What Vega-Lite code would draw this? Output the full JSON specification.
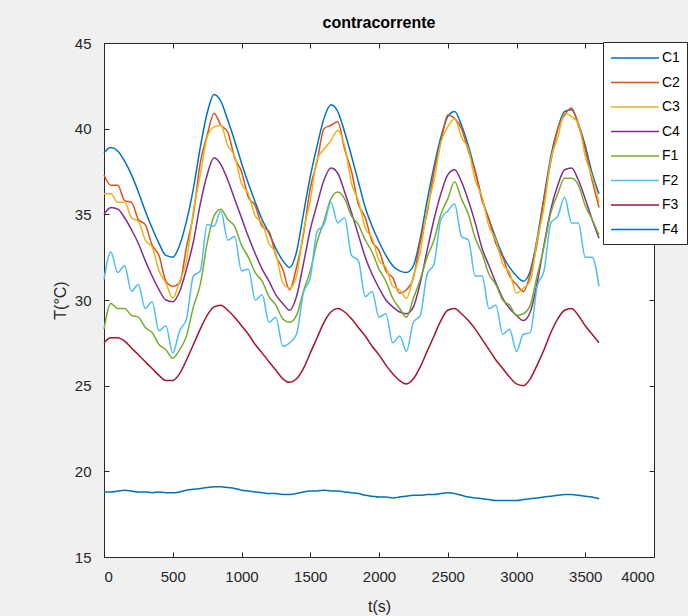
{
"$schema": "https://vega.github.io/schema/vega-lite/v6.json",
"width": 550, "height": 514,
"autosize": {"type": "none"},
"padding": {"left": 104, "top": 43, "right": 34, "bottom": 59},
"background": "#f0f0f0",
"title": {"text": "contracorrente", "font": "Liberation Sans", "fontSize": 16, "fontWeight": "bold", "color": "#000000", "offset": 5, "anchor": "middle"},
"config": {
  "view": {"fill": "white", "stroke": "#262626", "strokeWidth": 1},
  "axis": {"domain": false, "grid": false, "offset": -5, "tickColor": "#262626", "tickSize": 5, "tickWidth": 1, "labelColor": "#262626", "labelFont": "Liberation Sans", "labelFontSize": 15, "titleFont": "Liberation Sans", "titleFontSize": 16, "titleColor": "#262626", "titleFontWeight": "normal"},
  "legend": {"orient": "none", "legendX": 499, "legendY": -1, "symbolType": "M-1,0H5", "symbolSize": 256, "symbolStrokeWidth": 1.5, "labelFont": "Liberation Sans", "labelFontSize": 14, "labelColor": "#000000", "fillColor": "white", "strokeColor": "#262626", "padding": 7, "rowPadding": 8.5, "labelOffset": 34}
},
"data": {"values": [
{"t":0,"s":"C1","T":38.6},{"t":50,"s":"C1","T":38.9},{"t":100,"s":"C1","T":38.7},{"t":150,"s":"C1","T":38.1},{"t":200,"s":"C1","T":37.3},{"t":250,"s":"C1","T":36.3},{"t":300,"s":"C1","T":35.2},{"t":350,"s":"C1","T":34.2},{"t":400,"s":"C1","T":33.3},{"t":450,"s":"C1","T":32.6},
{"t":500,"s":"C1","T":32.5},{"t":550,"s":"C1","T":33.2},{"t":600,"s":"C1","T":34.6},{"t":650,"s":"C1","T":36.5},{"t":700,"s":"C1","T":38.9},{"t":750,"s":"C1","T":40.9},{"t":800,"s":"C1","T":42.0},{"t":850,"s":"C1","T":41.6},{"t":900,"s":"C1","T":40.5},{"t":950,"s":"C1","T":39.3},
{"t":1000,"s":"C1","T":38.0},{"t":1050,"s":"C1","T":36.8},{"t":1100,"s":"C1","T":35.7},{"t":1150,"s":"C1","T":34.7},{"t":1200,"s":"C1","T":33.9},{"t":1250,"s":"C1","T":33.0},{"t":1300,"s":"C1","T":32.3},{"t":1350,"s":"C1","T":31.9},{"t":1400,"s":"C1","T":32.8},{"t":1450,"s":"C1","T":35.0},
{"t":1500,"s":"C1","T":37.2},{"t":1550,"s":"C1","T":39.0},{"t":1600,"s":"C1","T":40.6},{"t":1650,"s":"C1","T":41.4},{"t":1700,"s":"C1","T":41.0},{"t":1750,"s":"C1","T":39.8},{"t":1800,"s":"C1","T":38.4},{"t":1850,"s":"C1","T":36.9},{"t":1900,"s":"C1","T":35.4},{"t":1950,"s":"C1","T":34.3},
{"t":2000,"s":"C1","T":33.4},{"t":2050,"s":"C1","T":32.6},{"t":2100,"s":"C1","T":32.0},{"t":2150,"s":"C1","T":31.7},{"t":2200,"s":"C1","T":31.6},{"t":2250,"s":"C1","T":32.0},{"t":2300,"s":"C1","T":33.6},{"t":2350,"s":"C1","T":35.8},{"t":2400,"s":"C1","T":37.8},{"t":2450,"s":"C1","T":39.5},
{"t":2500,"s":"C1","T":40.7},{"t":2550,"s":"C1","T":41.0},{"t":2600,"s":"C1","T":40.2},{"t":2650,"s":"C1","T":39.0},{"t":2700,"s":"C1","T":37.5},{"t":2750,"s":"C1","T":35.9},{"t":2800,"s":"C1","T":34.7},{"t":2850,"s":"C1","T":33.6},{"t":2900,"s":"C1","T":32.6},{"t":2950,"s":"C1","T":31.9},
{"t":3000,"s":"C1","T":31.4},{"t":3050,"s":"C1","T":31.1},{"t":3100,"s":"C1","T":31.7},{"t":3150,"s":"C1","T":33.6},{"t":3200,"s":"C1","T":36.0},{"t":3250,"s":"C1","T":38.4},{"t":3300,"s":"C1","T":40.0},{"t":3350,"s":"C1","T":41.0},{"t":3400,"s":"C1","T":41.1},{"t":3450,"s":"C1","T":40.3},
{"t":3500,"s":"C1","T":39.0},{"t":3550,"s":"C1","T":37.4},{"t":3600,"s":"C1","T":36.2},
{"t":0,"s":"C2","T":37.3},{"t":50,"s":"C2","T":36.7},{"t":100,"s":"C2","T":36.7},{"t":150,"s":"C2","T":35.8},{"t":200,"s":"C2","T":35.7},{"t":250,"s":"C2","T":34.7},{"t":300,"s":"C2","T":34.4},{"t":350,"s":"C2","T":33.2},{"t":400,"s":"C2","T":32.6},{"t":450,"s":"C2","T":31.1},
{"t":500,"s":"C2","T":30.8},{"t":550,"s":"C2","T":31.0},{"t":600,"s":"C2","T":33.1},{"t":650,"s":"C2","T":35.0},{"t":700,"s":"C2","T":38.0},{"t":750,"s":"C2","T":39.6},{"t":800,"s":"C2","T":40.9},{"t":850,"s":"C2","T":40.2},{"t":900,"s":"C2","T":39.8},{"t":950,"s":"C2","T":38.3},
{"t":1000,"s":"C2","T":37.5},{"t":1050,"s":"C2","T":36.0},{"t":1100,"s":"C2","T":35.5},{"t":1150,"s":"C2","T":34.3},{"t":1200,"s":"C2","T":34.0},{"t":1250,"s":"C2","T":32.6},{"t":1300,"s":"C2","T":31.8},{"t":1350,"s":"C2","T":30.6},{"t":1400,"s":"C2","T":31.9},{"t":1450,"s":"C2","T":33.8},
{"t":1500,"s":"C2","T":36.5},{"t":1550,"s":"C2","T":38.1},{"t":1600,"s":"C2","T":40.0},{"t":1650,"s":"C2","T":40.2},{"t":1700,"s":"C2","T":40.4},{"t":1750,"s":"C2","T":38.8},{"t":1800,"s":"C2","T":37.5},{"t":1850,"s":"C2","T":35.6},{"t":1900,"s":"C2","T":34.8},{"t":1950,"s":"C2","T":33.4},
{"t":2000,"s":"C2","T":32.9},{"t":2050,"s":"C2","T":31.7},{"t":2100,"s":"C2","T":31.3},{"t":2150,"s":"C2","T":30.4},{"t":2200,"s":"C2","T":30.6},{"t":2250,"s":"C2","T":31.3},{"t":2300,"s":"C2","T":33.4},{"t":2350,"s":"C2","T":35.1},{"t":2400,"s":"C2","T":37.5},{"t":2450,"s":"C2","T":39.2},
{"t":2500,"s":"C2","T":40.8},{"t":2550,"s":"C2","T":40.6},{"t":2600,"s":"C2","T":40.0},{"t":2650,"s":"C2","T":38.7},{"t":2700,"s":"C2","T":37.5},{"t":2750,"s":"C2","T":35.8},{"t":2800,"s":"C2","T":34.7},{"t":2850,"s":"C2","T":33.3},{"t":2900,"s":"C2","T":32.5},{"t":2950,"s":"C2","T":31.4},
{"t":3000,"s":"C2","T":30.9},{"t":3050,"s":"C2","T":30.5},{"t":3100,"s":"C2","T":31.5},{"t":3150,"s":"C2","T":33.3},{"t":3200,"s":"C2","T":35.9},{"t":3250,"s":"C2","T":38.1},{"t":3300,"s":"C2","T":40.0},{"t":3350,"s":"C2","T":40.8},{"t":3400,"s":"C2","T":41.2},{"t":3450,"s":"C2","T":40.2},
{"t":3500,"s":"C2","T":38.8},{"t":3550,"s":"C2","T":37.0},{"t":3600,"s":"C2","T":35.4},
{"t":0,"s":"C3","T":36.2},{"t":50,"s":"C3","T":36.2},{"t":100,"s":"C3","T":35.7},{"t":150,"s":"C3","T":35.7},{"t":200,"s":"C3","T":34.8},{"t":250,"s":"C3","T":34.6},{"t":300,"s":"C3","T":33.5},{"t":350,"s":"C3","T":33.1},{"t":400,"s":"C3","T":31.7},{"t":450,"s":"C3","T":31.0},
{"t":500,"s":"C3","T":30.1},{"t":550,"s":"C3","T":31.1},{"t":600,"s":"C3","T":32.3},{"t":650,"s":"C3","T":35.2},{"t":700,"s":"C3","T":37.3},{"t":750,"s":"C3","T":39.5},{"t":800,"s":"C3","T":40.1},{"t":850,"s":"C3","T":40.2},{"t":900,"s":"C3","T":39.0},{"t":950,"s":"C3","T":38.4},
{"t":1000,"s":"C3","T":36.8},{"t":1050,"s":"C3","T":36.2},{"t":1100,"s":"C3","T":34.9},{"t":1150,"s":"C3","T":34.5},{"t":1200,"s":"C3","T":33.3},{"t":1250,"s":"C3","T":32.7},{"t":1300,"s":"C3","T":31.0},{"t":1350,"s":"C3","T":30.7},{"t":1400,"s":"C3","T":31.4},{"t":1450,"s":"C3","T":34.0},
{"t":1500,"s":"C3","T":35.8},{"t":1550,"s":"C3","T":38.2},{"t":1600,"s":"C3","T":38.8},{"t":1650,"s":"C3","T":39.3},{"t":1700,"s":"C3","T":39.9},{"t":1750,"s":"C3","T":39.0},{"t":1800,"s":"C3","T":36.8},{"t":1850,"s":"C3","T":35.8},{"t":1900,"s":"C3","T":34.2},{"t":1950,"s":"C3","T":33.6},
{"t":2000,"s":"C3","T":32.3},{"t":2050,"s":"C3","T":31.9},{"t":2100,"s":"C3","T":30.8},{"t":2150,"s":"C3","T":30.6},{"t":2200,"s":"C3","T":30.1},{"t":2250,"s":"C3","T":31.4},{"t":2300,"s":"C3","T":32.8},{"t":2350,"s":"C3","T":35.3},{"t":2400,"s":"C3","T":37.0},{"t":2450,"s":"C3","T":39.2},
{"t":2500,"s":"C3","T":40.1},{"t":2550,"s":"C3","T":40.6},{"t":2600,"s":"C3","T":39.5},{"t":2650,"s":"C3","T":38.8},{"t":2700,"s":"C3","T":37.0},{"t":2750,"s":"C3","T":36.0},{"t":2800,"s":"C3","T":34.3},{"t":2850,"s":"C3","T":33.5},{"t":2900,"s":"C3","T":32.1},{"t":2950,"s":"C3","T":31.6},
{"t":3000,"s":"C3","T":30.4},{"t":3050,"s":"C3","T":30.7},{"t":3100,"s":"C3","T":31.1},{"t":3150,"s":"C3","T":33.5},{"t":3200,"s":"C3","T":35.4},{"t":3250,"s":"C3","T":38.2},{"t":3300,"s":"C3","T":39.5},{"t":3350,"s":"C3","T":40.9},{"t":3400,"s":"C3","T":40.7},{"t":3450,"s":"C3","T":40.3},
{"t":3500,"s":"C3","T":38.4},{"t":3550,"s":"C3","T":37.2},{"t":3600,"s":"C3","T":35.7},
{"t":0,"s":"C4","T":35.0},{"t":50,"s":"C4","T":35.4},{"t":100,"s":"C4","T":35.3},{"t":150,"s":"C4","T":34.8},{"t":200,"s":"C4","T":34.1},{"t":250,"s":"C4","T":33.3},{"t":300,"s":"C4","T":32.3},{"t":350,"s":"C4","T":31.4},{"t":400,"s":"C4","T":30.6},{"t":450,"s":"C4","T":30.0},
{"t":500,"s":"C4","T":29.9},{"t":550,"s":"C4","T":30.5},{"t":600,"s":"C4","T":31.8},{"t":650,"s":"C4","T":33.4},{"t":700,"s":"C4","T":35.6},{"t":750,"s":"C4","T":37.3},{"t":800,"s":"C4","T":38.3},{"t":850,"s":"C4","T":37.9},{"t":900,"s":"C4","T":37.0},{"t":950,"s":"C4","T":35.9},
{"t":1000,"s":"C4","T":34.8},{"t":1050,"s":"C4","T":33.7},{"t":1100,"s":"C4","T":32.7},{"t":1150,"s":"C4","T":31.8},{"t":1200,"s":"C4","T":31.1},{"t":1250,"s":"C4","T":30.3},{"t":1300,"s":"C4","T":29.8},{"t":1350,"s":"C4","T":29.4},{"t":1400,"s":"C4","T":30.2},{"t":1450,"s":"C4","T":32.1},
{"t":1500,"s":"C4","T":34.1},{"t":1550,"s":"C4","T":35.6},{"t":1600,"s":"C4","T":37.0},{"t":1650,"s":"C4","T":37.7},{"t":1700,"s":"C4","T":37.4},{"t":1750,"s":"C4","T":36.3},{"t":1800,"s":"C4","T":35.1},{"t":1850,"s":"C4","T":33.8},{"t":1900,"s":"C4","T":32.5},{"t":1950,"s":"C4","T":31.5},
{"t":2000,"s":"C4","T":30.7},{"t":2050,"s":"C4","T":30.0},{"t":2100,"s":"C4","T":29.6},{"t":2150,"s":"C4","T":29.3},{"t":2200,"s":"C4","T":29.2},{"t":2250,"s":"C4","T":29.6},{"t":2300,"s":"C4","T":31.0},{"t":2350,"s":"C4","T":32.9},{"t":2400,"s":"C4","T":34.7},{"t":2450,"s":"C4","T":36.2},
{"t":2500,"s":"C4","T":37.3},{"t":2550,"s":"C4","T":37.6},{"t":2600,"s":"C4","T":36.9},{"t":2650,"s":"C4","T":35.8},{"t":2700,"s":"C4","T":34.5},{"t":2750,"s":"C4","T":33.0},{"t":2800,"s":"C4","T":32.0},{"t":2850,"s":"C4","T":31.0},{"t":2900,"s":"C4","T":30.1},{"t":2950,"s":"C4","T":29.5},
{"t":3000,"s":"C4","T":29.1},{"t":3050,"s":"C4","T":28.8},{"t":3100,"s":"C4","T":29.3},{"t":3150,"s":"C4","T":31.0},{"t":3200,"s":"C4","T":33.2},{"t":3250,"s":"C4","T":35.3},{"t":3300,"s":"C4","T":36.7},{"t":3350,"s":"C4","T":37.6},{"t":3400,"s":"C4","T":37.7},{"t":3450,"s":"C4","T":37.0},
{"t":3500,"s":"C4","T":35.9},{"t":3550,"s":"C4","T":34.7},{"t":3600,"s":"C4","T":33.6},
{"t":0,"s":"F1","T":28.3},{"t":50,"s":"F1","T":29.8},{"t":100,"s":"F1","T":29.5},{"t":150,"s":"F1","T":29.5},{"t":200,"s":"F1","T":29.1},{"t":250,"s":"F1","T":29.0},{"t":300,"s":"F1","T":28.4},{"t":350,"s":"F1","T":28.1},{"t":400,"s":"F1","T":27.4},{"t":450,"s":"F1","T":27.1},
{"t":500,"s":"F1","T":26.6},{"t":550,"s":"F1","T":27.1},{"t":600,"s":"F1","T":27.9},{"t":650,"s":"F1","T":29.6},{"t":700,"s":"F1","T":30.9},{"t":750,"s":"F1","T":33.3},{"t":800,"s":"F1","T":34.9},{"t":850,"s":"F1","T":35.3},{"t":900,"s":"F1","T":34.7},{"t":950,"s":"F1","T":34.3},
{"t":1000,"s":"F1","T":33.2},{"t":1050,"s":"F1","T":32.5},{"t":1100,"s":"F1","T":31.6},{"t":1150,"s":"F1","T":31.1},{"t":1200,"s":"F1","T":30.2},{"t":1250,"s":"F1","T":29.7},{"t":1300,"s":"F1","T":28.9},{"t":1350,"s":"F1","T":28.7},{"t":1400,"s":"F1","T":29.1},{"t":1450,"s":"F1","T":30.5},
{"t":1500,"s":"F1","T":31.7},{"t":1550,"s":"F1","T":33.4},{"t":1600,"s":"F1","T":34.6},{"t":1650,"s":"F1","T":35.9},{"t":1700,"s":"F1","T":36.3},{"t":1750,"s":"F1","T":35.9},{"t":1800,"s":"F1","T":34.9},{"t":1850,"s":"F1","T":34.4},{"t":1900,"s":"F1","T":33.5},{"t":1950,"s":"F1","T":32.8},
{"t":2000,"s":"F1","T":31.8},{"t":2050,"s":"F1","T":31.1},{"t":2100,"s":"F1","T":30.1},{"t":2150,"s":"F1","T":29.5},{"t":2200,"s":"F1","T":29.0},{"t":2250,"s":"F1","T":30.1},{"t":2300,"s":"F1","T":31.2},{"t":2350,"s":"F1","T":32.5},{"t":2400,"s":"F1","T":33.5},{"t":2450,"s":"F1","T":35.0},
{"t":2500,"s":"F1","T":35.9},{"t":2550,"s":"F1","T":36.9},{"t":2600,"s":"F1","T":35.9},{"t":2650,"s":"F1","T":35.0},{"t":2700,"s":"F1","T":33.6},{"t":2750,"s":"F1","T":32.7},{"t":2800,"s":"F1","T":31.5},{"t":2850,"s":"F1","T":30.9},{"t":2900,"s":"F1","T":30.0},{"t":2950,"s":"F1","T":29.7},
{"t":3000,"s":"F1","T":29.1},{"t":3050,"s":"F1","T":29.2},{"t":3100,"s":"F1","T":29.7},{"t":3150,"s":"F1","T":31.4},{"t":3200,"s":"F1","T":33.1},{"t":3250,"s":"F1","T":35.1},{"t":3300,"s":"F1","T":36.2},{"t":3350,"s":"F1","T":37.1},{"t":3400,"s":"F1","T":37.1},{"t":3450,"s":"F1","T":36.7},
{"t":3500,"s":"F1","T":35.5},{"t":3550,"s":"F1","T":34.7},{"t":3600,"s":"F1","T":33.8},
{"t":0,"s":"F2","T":31.2},{"t":50,"s":"F2","T":32.8},{"t":100,"s":"F2","T":31.6},{"t":150,"s":"F2","T":32.0},{"t":200,"s":"F2","T":30.5},{"t":250,"s":"F2","T":30.9},{"t":300,"s":"F2","T":29.5},{"t":350,"s":"F2","T":29.9},{"t":400,"s":"F2","T":28.2},{"t":450,"s":"F2","T":28.5},
{"t":500,"s":"F2","T":26.9},{"t":550,"s":"F2","T":28.2},{"t":600,"s":"F2","T":28.9},{"t":650,"s":"F2","T":31.4},{"t":700,"s":"F2","T":31.7},{"t":750,"s":"F2","T":34.4},{"t":800,"s":"F2","T":34.3},{"t":850,"s":"F2","T":35.2},{"t":900,"s":"F2","T":33.5},{"t":950,"s":"F2","T":33.7},
{"t":1000,"s":"F2","T":31.7},{"t":1050,"s":"F2","T":31.8},{"t":1100,"s":"F2","T":30.0},{"t":1150,"s":"F2","T":30.3},{"t":1200,"s":"F2","T":28.7},{"t":1250,"s":"F2","T":29.0},{"t":1300,"s":"F2","T":27.3},{"t":1350,"s":"F2","T":27.5},{"t":1400,"s":"F2","T":28.0},{"t":1450,"s":"F2","T":30.4},
{"t":1500,"s":"F2","T":31.3},{"t":1550,"s":"F2","T":34.0},{"t":1600,"s":"F2","T":34.4},{"t":1650,"s":"F2","T":35.7},{"t":1700,"s":"F2","T":34.5},{"t":1750,"s":"F2","T":34.8},{"t":1800,"s":"F2","T":32.6},{"t":1850,"s":"F2","T":32.3},{"t":1900,"s":"F2","T":30.2},{"t":1950,"s":"F2","T":30.5},
{"t":2000,"s":"F2","T":29.0},{"t":2050,"s":"F2","T":29.2},{"t":2100,"s":"F2","T":27.5},{"t":2150,"s":"F2","T":27.9},{"t":2200,"s":"F2","T":27.0},{"t":2250,"s":"F2","T":28.7},{"t":2300,"s":"F2","T":29.1},{"t":2350,"s":"F2","T":31.5},{"t":2400,"s":"F2","T":32.1},{"t":2450,"s":"F2","T":34.7},
{"t":2500,"s":"F2","T":35.2},{"t":2550,"s":"F2","T":35.6},{"t":2600,"s":"F2","T":33.7},{"t":2650,"s":"F2","T":33.5},{"t":2700,"s":"F2","T":31.4},{"t":2750,"s":"F2","T":31.4},{"t":2800,"s":"F2","T":29.5},{"t":2850,"s":"F2","T":29.7},{"t":2900,"s":"F2","T":28.0},{"t":2950,"s":"F2","T":28.3},
{"t":3000,"s":"F2","T":27.0},{"t":3050,"s":"F2","T":28.0},{"t":3100,"s":"F2","T":28.1},{"t":3150,"s":"F2","T":30.8},{"t":3200,"s":"F2","T":31.7},{"t":3250,"s":"F2","T":34.5},{"t":3300,"s":"F2","T":34.9},{"t":3350,"s":"F2","T":36.0},{"t":3400,"s":"F2","T":34.5},{"t":3450,"s":"F2","T":34.5},
{"t":3500,"s":"F2","T":32.5},{"t":3550,"s":"F2","T":32.5},{"t":3600,"s":"F2","T":30.8},
{"t":0,"s":"F3","T":27.5},{"t":50,"s":"F3","T":27.8},{"t":100,"s":"F3","T":27.8},{"t":150,"s":"F3","T":27.6},{"t":200,"s":"F3","T":27.2},{"t":250,"s":"F3","T":26.8},{"t":300,"s":"F3","T":26.4},{"t":350,"s":"F3","T":26.0},{"t":400,"s":"F3","T":25.6},{"t":450,"s":"F3","T":25.3},
{"t":500,"s":"F3","T":25.3},{"t":550,"s":"F3","T":25.7},{"t":600,"s":"F3","T":26.5},{"t":650,"s":"F3","T":27.4},{"t":700,"s":"F3","T":28.3},{"t":750,"s":"F3","T":29.1},{"t":800,"s":"F3","T":29.6},{"t":850,"s":"F3","T":29.7},{"t":900,"s":"F3","T":29.4},{"t":950,"s":"F3","T":29.0},
{"t":1000,"s":"F3","T":28.5},{"t":1050,"s":"F3","T":28.0},{"t":1100,"s":"F3","T":27.4},{"t":1150,"s":"F3","T":26.9},{"t":1200,"s":"F3","T":26.4},{"t":1250,"s":"F3","T":25.9},{"t":1300,"s":"F3","T":25.4},{"t":1350,"s":"F3","T":25.2},{"t":1400,"s":"F3","T":25.4},{"t":1450,"s":"F3","T":26.0},
{"t":1500,"s":"F3","T":26.9},{"t":1550,"s":"F3","T":27.8},{"t":1600,"s":"F3","T":28.7},{"t":1650,"s":"F3","T":29.3},{"t":1700,"s":"F3","T":29.5},{"t":1750,"s":"F3","T":29.3},{"t":1800,"s":"F3","T":28.9},{"t":1850,"s":"F3","T":28.4},{"t":1900,"s":"F3","T":27.9},{"t":1950,"s":"F3","T":27.3},
{"t":2000,"s":"F3","T":26.8},{"t":2050,"s":"F3","T":26.2},{"t":2100,"s":"F3","T":25.7},{"t":2150,"s":"F3","T":25.3},{"t":2200,"s":"F3","T":25.1},{"t":2250,"s":"F3","T":25.4},{"t":2300,"s":"F3","T":26.1},{"t":2350,"s":"F3","T":27.0},{"t":2400,"s":"F3","T":27.9},{"t":2450,"s":"F3","T":28.8},
{"t":2500,"s":"F3","T":29.4},{"t":2550,"s":"F3","T":29.5},{"t":2600,"s":"F3","T":29.2},{"t":2650,"s":"F3","T":28.8},{"t":2700,"s":"F3","T":28.3},{"t":2750,"s":"F3","T":27.7},{"t":2800,"s":"F3","T":27.1},{"t":2850,"s":"F3","T":26.5},{"t":2900,"s":"F3","T":26.0},{"t":2950,"s":"F3","T":25.5},
{"t":3000,"s":"F3","T":25.1},{"t":3050,"s":"F3","T":25.0},{"t":3100,"s":"F3","T":25.4},{"t":3150,"s":"F3","T":26.2},{"t":3200,"s":"F3","T":27.1},{"t":3250,"s":"F3","T":28.1},{"t":3300,"s":"F3","T":28.9},{"t":3350,"s":"F3","T":29.4},{"t":3400,"s":"F3","T":29.5},{"t":3450,"s":"F3","T":29.1},
{"t":3500,"s":"F3","T":28.5},{"t":3550,"s":"F3","T":28.0},{"t":3600,"s":"F3","T":27.5},
{"t":0,"s":"F4","T":18.8},{"t":50,"s":"F4","T":18.8},{"t":100,"s":"F4","T":18.85},{"t":150,"s":"F4","T":18.9},{"t":200,"s":"F4","T":18.85},{"t":250,"s":"F4","T":18.8},{"t":300,"s":"F4","T":18.8},{"t":350,"s":"F4","T":18.75},{"t":400,"s":"F4","T":18.8},{"t":450,"s":"F4","T":18.75},
{"t":500,"s":"F4","T":18.75},{"t":550,"s":"F4","T":18.8},{"t":600,"s":"F4","T":18.9},{"t":650,"s":"F4","T":18.95},{"t":700,"s":"F4","T":19.0},{"t":750,"s":"F4","T":19.05},{"t":800,"s":"F4","T":19.1},{"t":850,"s":"F4","T":19.1},{"t":900,"s":"F4","T":19.05},{"t":950,"s":"F4","T":19.0},
{"t":1000,"s":"F4","T":18.9},{"t":1050,"s":"F4","T":18.85},{"t":1100,"s":"F4","T":18.8},{"t":1150,"s":"F4","T":18.75},{"t":1200,"s":"F4","T":18.7},{"t":1250,"s":"F4","T":18.7},{"t":1300,"s":"F4","T":18.65},{"t":1350,"s":"F4","T":18.65},{"t":1400,"s":"F4","T":18.7},{"t":1450,"s":"F4","T":18.8},
{"t":1500,"s":"F4","T":18.85},{"t":1550,"s":"F4","T":18.85},{"t":1600,"s":"F4","T":18.9},{"t":1650,"s":"F4","T":18.85},{"t":1700,"s":"F4","T":18.85},{"t":1750,"s":"F4","T":18.8},{"t":1800,"s":"F4","T":18.75},{"t":1850,"s":"F4","T":18.7},{"t":1900,"s":"F4","T":18.6},{"t":1950,"s":"F4","T":18.55},
{"t":2000,"s":"F4","T":18.5},{"t":2050,"s":"F4","T":18.5},{"t":2100,"s":"F4","T":18.45},{"t":2150,"s":"F4","T":18.5},{"t":2200,"s":"F4","T":18.55},{"t":2250,"s":"F4","T":18.6},{"t":2300,"s":"F4","T":18.6},{"t":2350,"s":"F4","T":18.65},{"t":2400,"s":"F4","T":18.65},{"t":2450,"s":"F4","T":18.7},
{"t":2500,"s":"F4","T":18.75},{"t":2550,"s":"F4","T":18.7},{"t":2600,"s":"F4","T":18.6},{"t":2650,"s":"F4","T":18.5},{"t":2700,"s":"F4","T":18.45},{"t":2750,"s":"F4","T":18.4},{"t":2800,"s":"F4","T":18.35},{"t":2850,"s":"F4","T":18.3},{"t":2900,"s":"F4","T":18.3},{"t":2950,"s":"F4","T":18.3},
{"t":3000,"s":"F4","T":18.3},{"t":3050,"s":"F4","T":18.35},{"t":3100,"s":"F4","T":18.4},{"t":3150,"s":"F4","T":18.45},{"t":3200,"s":"F4","T":18.5},{"t":3250,"s":"F4","T":18.55},{"t":3300,"s":"F4","T":18.6},{"t":3350,"s":"F4","T":18.65},{"t":3400,"s":"F4","T":18.65},{"t":3450,"s":"F4","T":18.6},
{"t":3500,"s":"F4","T":18.55},{"t":3550,"s":"F4","T":18.5},{"t":3600,"s":"F4","T":18.4}
]},
"layer": [
{
"mark": {"type": "line", "strokeWidth": 1.5, "interpolate": "monotone"},
"encoding": {
  "x": {"field": "t", "type": "quantitative", "title": "t(s)", "scale": {"domain": [0, 4000], "nice": false}, "axis": {"values": [0,500,1000,1500,2000,2500,3000,3500,4000], "format": "d", "labelPadding": 12, "titlePadding": 14}},
  "y": {"field": "T", "type": "quantitative", "title": "T(°C)", "scale": {"domain": [15, 45], "nice": false, "zero": false}, "axis": {"values": [15,20,25,30,35,40,45], "format": "d", "labelPadding": 13, "titlePadding": 6}},
  "color": {"field": "s", "type": "nominal", "title": null, "scale": {"domain": ["C1","C2","C3","C4","F1","F2","F3","F4"], "range": ["#0072BD","#D95319","#EDB120","#7E2F8E","#77AC30","#4DBEEE","#A2142F","#0072BD"]}}
}
},
{
"mark": {"type": "line", "opacity": 0},
"encoding": {
  "x": {"field": "t", "type": "quantitative", "scale": {"domain": [0, 4000], "nice": false}, "axis": {"orient": "top", "values": [0,500,1000,1500,2000,2500,3000,3500,4000], "labels": false, "title": null}},
  "y": {"field": "T", "type": "quantitative", "scale": {"domain": [15, 45], "nice": false, "zero": false}, "axis": {"orient": "right", "values": [15,20,25,30,35,40,45], "labels": false, "title": null}},
  "detail": {"field": "s", "type": "nominal"}
}
}
],
"resolve": {"scale": {"x": "independent", "y": "independent"}}
}
